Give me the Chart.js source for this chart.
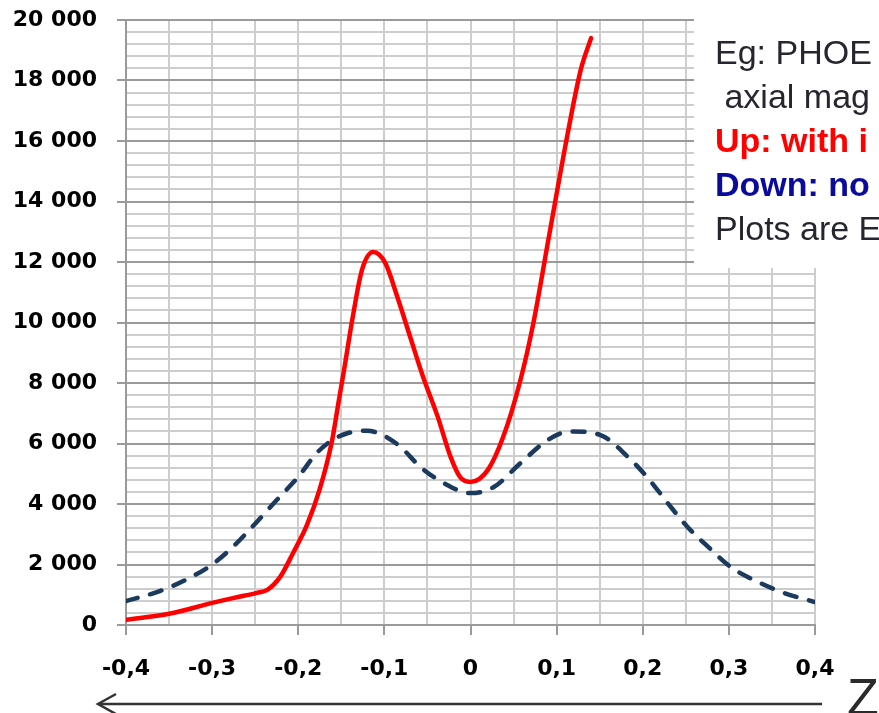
<!DOCTYPE html>
<html>
<head>
<meta charset="utf-8">
<script src="https://cdn.jsdelivr.net/npm/chart.js@4"></script>
<style>
  html, body { margin: 0; padding: 0; background: #fff; }
  #wrap { width: 879px; height: 713px; position: relative; }
</style>
</head>
<body>
<div id="wrap"><canvas id="myChart"></canvas></div>
<script>
// Solid red curve (with iron)
const redX = [-0.4, -0.35, -0.3, -0.276, -0.248, -0.236, -0.221, -0.206, -0.19, -0.175, -0.161, -0.153, -0.147,
  -0.136, -0.126, -0.113, -0.099, -0.085, -0.07, -0.055, -0.038, -0.023, -0.012, 0,
  0.02, 0.038, 0.058, 0.073, 0.091, 0.113, 0.128, 0.14];
const redY = [170, 370, 730, 890, 1060, 1160, 1590, 2380, 3300, 4500, 6060, 7400, 8400,
  10300, 11740, 12330, 11970, 10850, 9520, 8200, 6880, 5550, 4890, 4730,
  5120, 6220, 8100, 9980, 12830, 16270, 18350, 19400];

// Dashed navy curve (no iron)
const blueX = [-0.4, -0.36, -0.33, -0.3, -0.276, -0.25, -0.225, -0.2, -0.178, -0.16, -0.143, -0.12, -0.1,
  -0.081, -0.058, -0.031, 0, 0.027, 0.058, 0.09, 0.116, 0.151, 0.183, 0.206, 0.229, 0.252,
  0.276, 0.302, 0.334, 0.364, 0.4];
const blueY = [790, 1130, 1500, 2000, 2580, 3350, 4130, 4900, 5700, 6120, 6340, 6420, 6250,
  5880, 5220, 4690, 4360, 4560, 5350, 6120, 6400, 6280, 5550, 4860, 4030, 3240,
  2580, 1920, 1420, 1060, 760];

// Axis ranges / ticks
const xMin = -0.4, xMax = 0.4, xStep = 0.05;
const yMin = 0, yMax = 20000, yStep = 400, yLabelStep = 2000;

// Text box in the top right corner
const noteLines = [
  { text: 'Eg: PHOE', color: '#262630', bold: false },
  { text: ' axial mag', color: '#262630', bold: false },
  { text: 'Up: with i', color: '#ff0000', bold: true },
  { text: 'Down: no', color: '#0a0a9c', bold: true },
  { text: 'Plots are E', color: '#262630', bold: false }
];

const toPoints = (xs, ys) => xs.map((x, i) => ({ x: x, y: ys[i] }));

const isMajorY = v => Math.round(v) % yLabelStep === 0;
const isMajorX = v => Math.round(v * 20) % 2 === 0;

const overlay = {
  id: 'overlay',
  afterDraw(chart) {
    const ctx = chart.ctx;
    ctx.save();
    // white note box hiding the grid
    ctx.fillStyle = '#ffffff';
    ctx.fillRect(694, 0, 185, 268);
    ctx.textBaseline = 'alphabetic';
    ctx.textAlign = 'left';
    noteLines.forEach((l, i) => {
      ctx.font = (l.bold ? 'bold ' : '') + '34px "Liberation Sans", Arial, sans-serif';
      ctx.fillStyle = l.color;
      ctx.fillText(l.text, 715, 64 + i * 44);
    });
    // arrow along the bottom
    ctx.strokeStyle = '#333333';
    ctx.lineWidth = 2.5;
    ctx.beginPath();
    ctx.moveTo(822, 704);
    ctx.lineTo(99, 704);
    ctx.stroke();
    ctx.beginPath();
    ctx.moveTo(116, 694);
    ctx.lineTo(98, 704);
    ctx.lineTo(116, 714);
    ctx.stroke();
    // Z
    ctx.font = '52px "Liberation Sans", Arial, sans-serif';
    ctx.fillStyle = '#2b2b2b';
    ctx.fillText('Z', 847, 715);
    ctx.restore();
  }
};

const tickFont = { family: '"DejaVu Sans", sans-serif', size: 22, weight: 'bold' };

const chartConfig = {
  type: 'line',
  data: {
    datasets: [{
      label: 'Up: with iron',
      data: toPoints(redX, redY),
      borderColor: '#ff0000',
      borderWidth: 4.5,
      pointRadius: 0,
      fill: false,
      cubicInterpolationMode: 'monotone',
      borderCapStyle: 'round'
    }, {
      label: 'Down: no iron',
      data: toPoints(blueX, blueY),
      borderColor: '#1b3a5e',
      borderWidth: 4.5,
      borderDash: [12, 13],
      borderCapStyle: 'round',
      pointRadius: 0,
      fill: false,
      cubicInterpolationMode: 'monotone'
    }]
  },
  options: {
    responsive: true,
    maintainAspectRatio: false,
    animation: false,
    layout: { padding: { left: 0, top: 20, right: 64, bottom: 0 } },
    plugins: {
      legend: { display: false },
      tooltip: { enabled: false }
    },
    scales: {
      x: {
        type: 'linear',
        min: xMin,
        max: xMax,
        afterFit(scale) { scale.height = 88; },
        border: { color: '#9a9a9a', width: 2 },
        grid: {
          lineWidth: 2,
          color: '#cdcdcd',
          tickLength: 10,
          tickColor: ctx => (ctx.tick && isMajorX(ctx.tick.value)) ? '#9a9a9a' : 'rgba(0,0,0,0)'
        },
        ticks: {
          stepSize: xStep,
          autoSkip: false,
          maxRotation: 0,
          padding: 21,
          color: '#000',
          font: tickFont,
          callback: v => {
            if (!isMajorX(v)) return '';
            const r = Math.round(v * 10) / 10;
            if (r === 0) return '0';
            return r.toFixed(1).replace('.', ',');
          }
        }
      },
      y: {
        type: 'linear',
        min: yMin,
        max: yMax,
        afterFit(scale) {
          scale.width = 126;
          scale.paddingTop = 0;
          scale.paddingBottom = 0;
        },
        border: { color: '#9a9a9a', width: 2 },
        grid: {
          lineWidth: 2,
          color: ctx => (ctx.tick && isMajorY(ctx.tick.value)) ? '#9a9a9a' : '#cdcdcd',
          tickLength: 9,
          tickColor: ctx => (ctx.tick && isMajorY(ctx.tick.value)) ? '#9a9a9a' : 'rgba(0,0,0,0)'
        },
        ticks: {
          stepSize: yStep,
          autoSkip: false,
          padding: 20,
          color: '#000',
          font: tickFont,
          callback: v => isMajorY(v) ? String(Math.round(v)).replace(/\B(?=(\d{3})+(?!\d))/g, ' ') : ''
        }
      }
    }
  },
  plugins: [overlay]
};

const myChart = new Chart(document.getElementById('myChart'), chartConfig);
</script>
</body>
</html>
